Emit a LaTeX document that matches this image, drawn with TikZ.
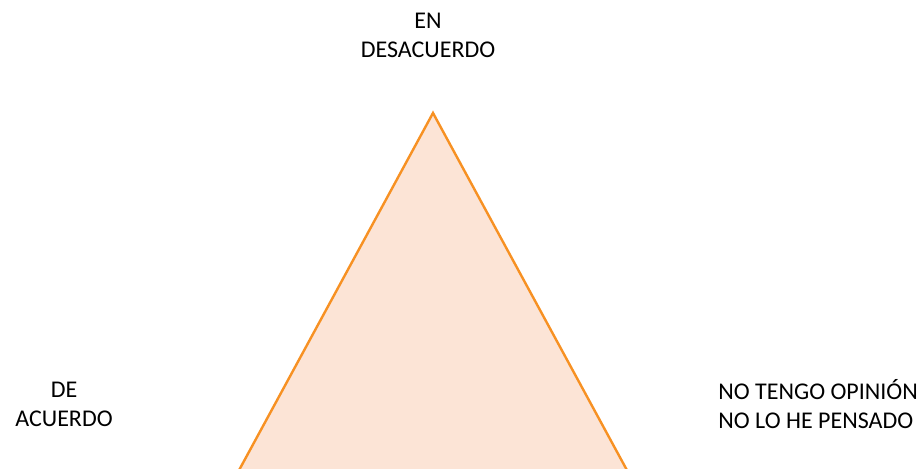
\documentclass[tikz,border=0pt]{standalone}
\usepackage{fontspec}
\setmainfont{Carlito}
\usepackage{tikz}

\definecolor{triline}{RGB}{247,145,35}
\definecolor{trifill}{RGB}{252,228,214}

\begin{document}
\begin{tikzpicture}[x=0.5pt,y=-0.5pt,
    lbl/.style={inner sep=0pt,font=\fontsize{12}{14.5}\selectfont}]

\useasboundingbox (0,0) rectangle (917,469);
\clip (0,0) rectangle (917,469);

\coordinate (top) at (433,113);
\coordinate (left) at (212,520);
\coordinate (right) at (654,520);

\draw[triline,fill=trifill,line width=1.2pt,line join=miter] (top) -- (right) -- (left) -- cycle;

\node[lbl,align=center] (desacuerdo) at (428,35) {EN\\DESACUERDO};
\node[lbl,align=center] (acuerdo) at (64,404) {DE\\ACUERDO};
\node[lbl,align=left,anchor=west] (noopinion) at (718,404) {NO TENGO OPINIÓN\\NO LO HE PENSADO};

\end{tikzpicture}
\end{document}
